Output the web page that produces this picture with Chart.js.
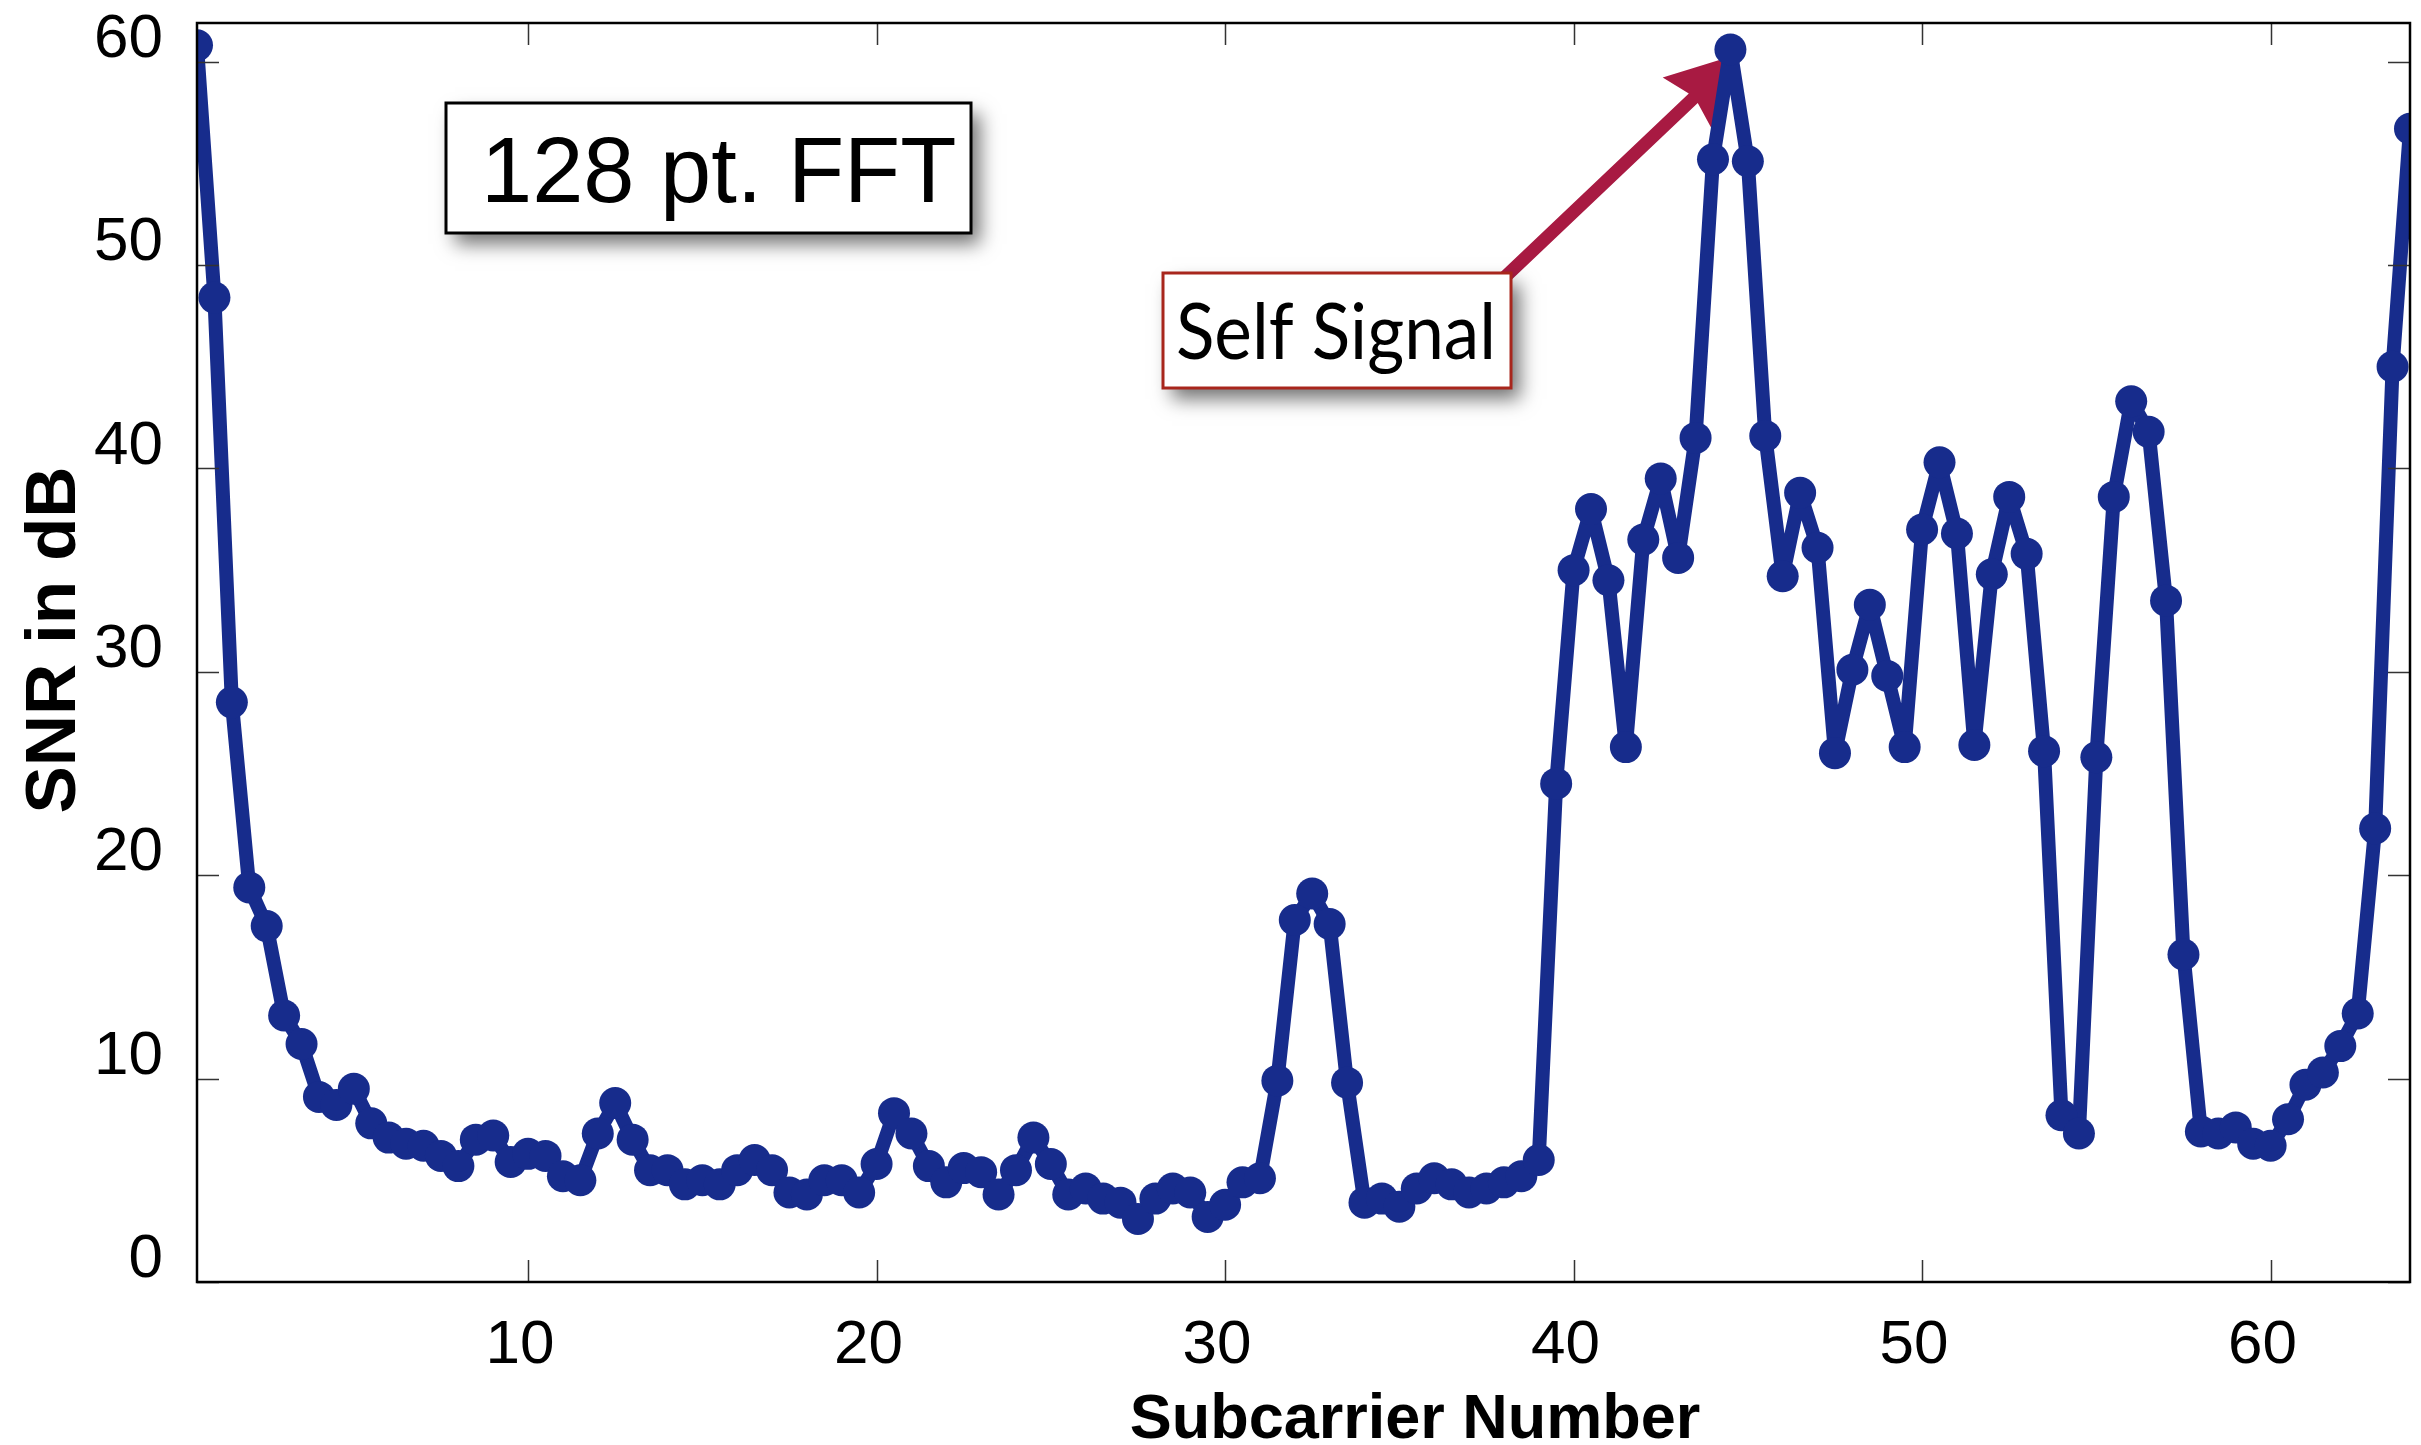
<!DOCTYPE html>
<html>
<head>
<meta charset="utf-8">
<title>SNR per subcarrier</title>
<script src="https://cdn.jsdelivr.net/npm/chart.js@4.4.1/dist/chart.umd.min.js"></script>
<style>
  html, body { margin: 0; padding: 0; background: #fff; overflow: hidden; }
  #wrap { width: 2421px; height: 1445px; }
</style>
</head>
<body>
<div id="wrap"><canvas id="snrChart" width="2421" height="1445"></canvas></div>
<script>
// Subcarrier index (half steps, 128 pt. FFT)
const subcarrier = [
  0.5, 1, 1.5, 2, 2.5, 3, 3.5, 4, 4.5, 5, 5.5, 6, 6.5, 7, 7.5, 8,
  8.5, 9, 9.5, 10, 10.5, 11, 11.5, 12, 12.5, 13, 13.5, 14, 14.5, 15, 15.5, 16,
  16.5, 17, 17.5, 18, 18.5, 19, 19.5, 20, 20.5, 21, 21.5, 22, 22.5, 23, 23.5, 24,
  24.5, 25, 25.5, 26, 26.5, 27, 27.5, 28, 28.5, 29, 29.5, 30, 30.5, 31, 31.5, 32,
  32.5, 33, 33.5, 34, 34.5, 35, 35.5, 36, 36.5, 37, 37.5, 38, 38.5, 39, 39.5, 40,
  40.5, 41, 41.5, 42, 42.5, 43, 43.5, 44, 44.5, 45, 45.5, 46, 46.5, 47, 47.5, 48,
  48.5, 49, 49.5, 50, 50.5, 51, 51.5, 52, 52.5, 53, 53.5, 54, 54.5, 55, 55.5, 56,
  56.5, 57, 57.5, 58, 58.5, 59, 59.5, 60, 60.5, 61, 61.5, 62, 62.5, 63, 63.5, 64
];

// SNR in dB read for each subcarrier
const snrDb = [
  60.8, 48.4, 28.5, 19.4, 17.5, 13.1, 11.7, 9.1, 8.7, 9.5, 7.8, 7.1, 6.8, 6.7, 6.2, 5.7,
  7.0, 7.2, 5.9, 6.3, 6.2, 5.2, 5.0, 7.3, 8.8, 7.0, 5.5, 5.5, 4.8, 5.0, 4.8, 5.5,
  6.0, 5.5, 4.4, 4.3, 5.0, 5.0, 4.4, 5.8, 8.3, 7.3, 5.7, 4.9, 5.6, 5.4, 4.3, 5.5,
  7.1, 5.8, 4.3, 4.6, 4.1, 3.9, 3.1, 4.1, 4.6, 4.4, 3.2, 3.8, 4.9, 5.1, 9.9, 17.8,
  19.1, 17.6, 9.8, 3.9, 4.1, 3.7, 4.6, 5.1, 4.8, 4.4, 4.6, 4.9, 5.2, 6.0, 24.5, 35.0,
  38.0, 34.5, 26.3, 36.5, 39.5, 35.6, 41.5, 55.2, 60.6, 55.1, 41.6, 34.7, 38.8, 36.1, 26.0, 30.1,
  33.3, 29.8, 26.3, 37.0, 40.3, 36.8, 26.4, 34.8, 38.6, 35.8, 26.1, 8.2, 7.3, 25.8, 38.6, 43.3,
  41.8, 33.5, 16.1, 7.4, 7.3, 7.6, 6.8, 6.7, 8.0, 9.7, 10.3, 11.6, 13.2, 22.3, 45.0, 56.7
];

const xTicks = [10, 20, 30, 40, 50, 60];
const yTicks = [0, 10, 20, 30, 40, 50, 60];

const xTitle = 'Subcarrier Number';
const yTitle = 'SNR in dB';
const fftNote = '128 pt. FFT';
const peakNote = 'Self Signal';
const peakIndex = 44.5;

const lineBlue = '#172c8c';
const arrowRed = '#a81a42';

// Box with a soft drop shadow
function drawNoteBox(ctx, x, y, w, h, stroke) {
  ctx.save();
  ctx.shadowColor = 'rgba(0, 0, 0, 0.55)';
  ctx.shadowBlur = 18;
  ctx.shadowOffsetX = 9;
  ctx.shadowOffsetY = 11;
  ctx.fillStyle = '#fff';
  ctx.fillRect(x, y, w, h);
  ctx.restore();
  ctx.save();
  ctx.strokeStyle = stroke;
  ctx.lineWidth = 3;
  ctx.strokeRect(x, y, w, h);
  ctx.restore();
}

// Text squeezed to a given width
function fitText(ctx, text, x, baseline, width) {
  const w = ctx.measureText(text).width;
  ctx.save();
  ctx.translate(x, baseline);
  ctx.scale(width / w, 1);
  ctx.fillText(text, 0, 0);
  ctx.restore();
}

function drawArrow(ctx, x0, y0, x1, y1) {
  const ang = Math.atan2(y1 - y0, x1 - x0);
  const len = Math.hypot(x1 - x0, y1 - y0);
  const headLen = 73, headHalf = 36, shaft = 13;
  ctx.save();
  ctx.translate(x0, y0);
  ctx.rotate(ang);
  ctx.fillStyle = arrowRed;
  ctx.beginPath();
  ctx.moveTo(0, -shaft / 2);
  ctx.lineTo(len - headLen + 8, -shaft / 2);
  ctx.lineTo(len - headLen, -headHalf);
  ctx.lineTo(len, 0);
  ctx.lineTo(len - headLen, headHalf);
  ctx.lineTo(len - headLen + 8, shaft / 2);
  ctx.lineTo(0, shaft / 2);
  ctx.closePath();
  ctx.fill();
  ctx.restore();
}

const decorations = {
  id: 'decorations',
  beforeDatasetsDraw(chart) {
    const xs = chart.scales.x, ys = chart.scales.y;
    const peakY = snrDb[subcarrier.indexOf(peakIndex)];
    // arrow from the note box to the peak
    drawArrow(chart.ctx, 1505, 277, xs.getPixelForValue(peakIndex) + 10, ys.getPixelForValue(peakY) + 4);
  },
  afterDraw(chart) {
    const ctx = chart.ctx;
    const a = chart.chartArea;
    const xs = chart.scales.x, ys = chart.scales.y;

    // inward tick marks on all four sides
    ctx.save();
    ctx.strokeStyle = '#333';
    ctx.lineWidth = 1.5;
    ctx.beginPath();
    xTicks.forEach(function(v) {
      const px = Math.round(xs.getPixelForValue(v)) + 0.5;
      ctx.moveTo(px, a.bottom); ctx.lineTo(px, a.bottom - 22);
      ctx.moveTo(px, a.top); ctx.lineTo(px, a.top + 22);
    });
    yTicks.forEach(function(v) {
      const py = Math.round(ys.getPixelForValue(v)) + 0.5;
      ctx.moveTo(a.left, py); ctx.lineTo(a.left + 22, py);
      ctx.moveTo(a.right, py); ctx.lineTo(a.right - 22, py);
    });
    ctx.stroke();

    // frame
    ctx.strokeStyle = '#000';
    ctx.lineWidth = 2.5;
    ctx.strokeRect(a.left, a.top, a.right - a.left, a.bottom - a.top);
    ctx.restore();

    // axis titles
    ctx.save();
    ctx.fillStyle = '#000';
    ctx.font = 'bold 63px "Liberation Sans", Arial, sans-serif';
    ctx.textAlign = 'center';
    ctx.textBaseline = 'alphabetic';
    ctx.fillText(xTitle, 1415, 1438);
    ctx.translate(75, 640);
    ctx.rotate(-Math.PI / 2);
    ctx.font = 'bold 71px "Liberation Sans", Arial, sans-serif';
    ctx.fillText(yTitle, 0, 0);
    ctx.restore();

    // "128 pt. FFT" note
    drawNoteBox(ctx, 446, 103, 525, 130, '#000');
    ctx.save();
    ctx.fillStyle = '#000';
    ctx.font = '92px "Liberation Sans", Arial, sans-serif';
    ctx.textAlign = 'left';
    ctx.textBaseline = 'alphabetic';
    ctx.fillText(fftNote, 481, 202);
    ctx.restore();

    // "Self Signal" note
    drawNoteBox(ctx, 1163, 273, 348, 115, '#a8261c');
    ctx.save();
    ctx.fillStyle = '#000';
    ctx.font = '78px Lato, "Open Sans", sans-serif';
    ctx.textAlign = 'left';
    ctx.textBaseline = 'alphabetic';
    fitText(ctx, peakNote, 1176, 359, 320);
    ctx.restore();
  }
};

function buildChart() {
  const points = subcarrier.map(function(x, i) { return { x: x, y: snrDb[i] }; });
  const tickFont = { family: '"Liberation Sans", Arial, sans-serif', size: 62 };

  new Chart(document.getElementById('snrChart'), {
    type: 'line',
    data: {
      datasets: [{
        label: 'SNR',
        data: points,
        borderColor: lineBlue,
        backgroundColor: lineBlue,
        borderWidth: 14,
        borderJoinStyle: 'round',
        borderCapStyle: 'round',
        pointRadius: 16,
        pointBorderWidth: 0,
        pointBackgroundColor: lineBlue,
        tension: 0,
        clip: 1
      }]
    },
    options: {
      responsive: false,
      devicePixelRatio: 1,
      animation: false,
      layout: { autoPadding: false, padding: { left: 0, top: 23, right: 11, bottom: 0 } },
      plugins: { legend: { display: false }, tooltip: { enabled: false } },
      scales: {
        x: {
          type: 'linear',
          min: 0.5,
          max: 64,
          grid: { display: false, drawTicks: false },
          border: { display: false },
          ticks: { font: tickFont, color: '#000', padding: 27, labelOffset: -8, maxRotation: 0, autoSkip: false },
          afterBuildTicks: function(s) { s.ticks = xTicks.map(function(v) { return { value: v }; }); },
          afterFit: function(s) { s.height = 163; s.paddingLeft = 0; s.paddingRight = 0; }
        },
        y: {
          min: 0,
          max: 61.9,
          grid: { display: false, drawTicks: false },
          border: { display: false },
          ticks: { font: tickFont, color: '#000', padding: 34, labelOffset: -22, autoSkip: false },
          afterBuildTicks: function(s) { s.ticks = yTicks.map(function(v) { return { value: v }; }); },
          afterFit: function(s) { s.width = 197; s.paddingTop = 0; s.paddingBottom = 0; }
        }
      }
    },
    plugins: [decorations]
  });
}

Promise.all([
  document.fonts.load('62px "Liberation Sans"'),
  document.fonts.load('bold 63px "Liberation Sans"'),
  document.fonts.load('78px Lato')
]).then(buildChart, buildChart);
</script>
</body>
</html>
